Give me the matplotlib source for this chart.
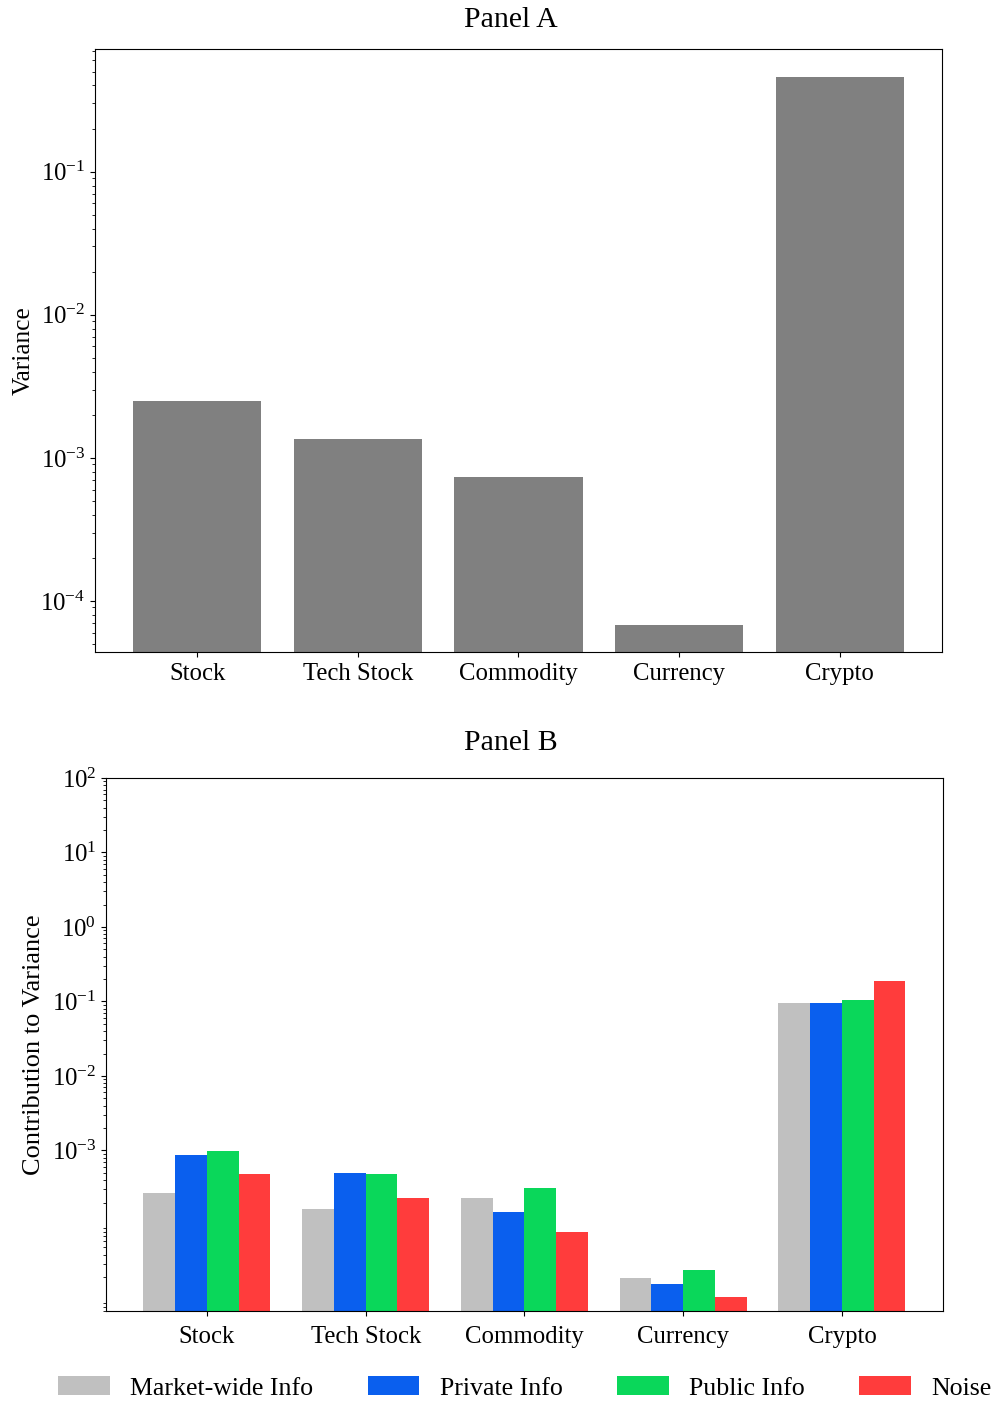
import matplotlib
matplotlib.use("Agg")
import matplotlib.pyplot as plt
import numpy as np

plt.rcParams['font.family'] = ['Liberation Serif', 'DejaVu Serif']
plt.rcParams['mathtext.fontset'] = 'stix'

# dane
assets = ["Stock", "Tech Stock", "Commodity", "Currency", "Crypto"]
variance = [2.5e-3, 1.36e-3, 7.4e-4, 6.8e-5, 0.46]

components = ["Market-wide Info", "Private Info", "Public Info", "Noise"]
market_wide = [2.7e-4, 1.66e-4, 2.33e-4, 1.95e-5, 0.094]
private_info = [8.8e-4, 5.0e-4, 1.47e-4, 1.62e-5, 0.094]
public_info = [9.8e-4, 4.9e-4, 3.1e-4, 2.5e-5, 0.106]
noise = [4.9e-4, 2.33e-4, 8.1e-5, 1.08e-5, 0.186]

colors = ["#c0c0c0", "#0a5fee", "#0ad75a", "#ff3c3c"]

fig = plt.figure(figsize=(9.97, 14.03), dpi=100)

# Panel A
ax1 = fig.add_axes([0.0953, 0.5353, 0.8495, 0.4298])
x = np.arange(len(assets))
ax1.bar(x, variance, width=0.8, color="#808080", log=True)
ax1.set_yscale("log")
ax1.set_ylim(4.4e-5, 0.72)
ax1.set_xlim(-0.636, 4.636)
ax1.set_xticks(x)
ax1.set_xticklabels(assets, fontsize=17.8)
ax1.tick_params(axis='y', labelsize=17.8)
ax1.tick_params(axis='x', pad=4.5)
ax1.set_ylabel("Variance", fontsize=18.3)
fig.text(0.512, 1 - 20 / 1403, "Panel A", fontsize=21.5, ha="center", va="center")

# Panel B
ax2 = fig.add_axes([0.1063, 0.0656, 0.8395, 0.3799])
series = [market_wide, private_info, public_info, noise]
w = 0.2
for i, (vals, name, c) in enumerate(zip(series, components, colors)):
    ax2.bar(x + (i - 1.5) * w, vals, width=w, color=c, label=name, log=True)
ax2.set_yscale("log")
ax2.set_ylim(7e-6, 100)
ax2.set_yticks([1e-3, 1e-2, 1e-1, 1e0, 1e1, 1e2])
ax2.set_xlim(-0.636, 4.636)
ax2.set_xticks(x)
ax2.set_xticklabels(assets, fontsize=17.8)
ax2.tick_params(axis='y', labelsize=17.8)
ax2.tick_params(axis='x', pad=7)
ax2.set_ylabel("Contribution to Variance", fontsize=19, labelpad=5)
fig.text(0.512, 1 - 743 / 1403, "Panel B", fontsize=21.5, ha="center", va="center")

fig.legend(loc="center", bbox_to_anchor=(0.5265, 15 / 1403), ncol=4, frameon=False,
           fontsize=18.6, handlelength=2.0, columnspacing=2.1)

fig.savefig("out.png", dpi=100)
